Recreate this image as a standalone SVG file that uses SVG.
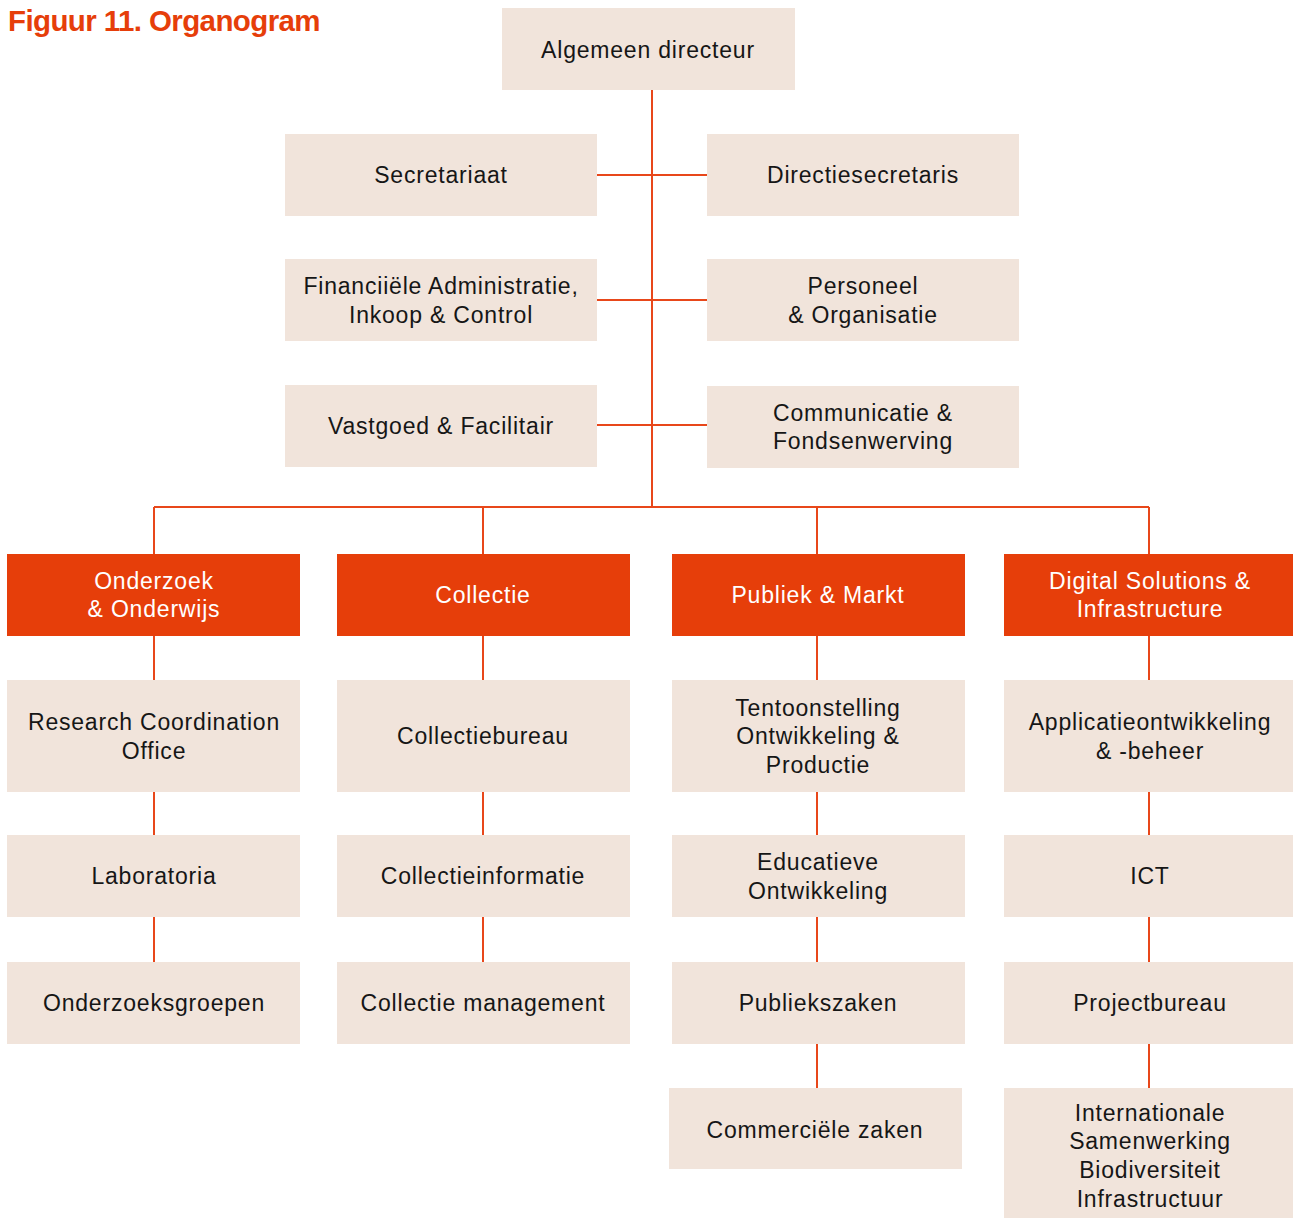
<svg xmlns="http://www.w3.org/2000/svg" width="1293" height="1218" viewBox="0 0 1293 1218">
<style>
.b{fill:#f1e4db}
.o{fill:#e63e0a}
.t{font-family:"Liberation Sans",Arial,sans-serif;font-size:23px;fill:#161616;text-anchor:middle;letter-spacing:0.8px}
.w{fill:#ffffff}
.c{stroke:#e8471a;stroke-width:2;fill:none}
.title{font-family:"Liberation Sans",Arial,sans-serif;font-size:29.5px;font-weight:bold;fill:#e63e0a;letter-spacing:-0.6px}
</style>
<rect width="1293" height="1218" fill="#ffffff"/>
<text class="title" x="8" y="31">Figuur 11. Organogram</text>
<g id="connectors">
<path class="c" d="M652 90V507M597 175H707M597 300H707M597 425H707M154 507H1149M154 507V962M483 507V962M817 507V1088M1149 507V1088"/>
</g>
<g id="n-algemeen"><rect class="b" x="502" y="8" width="293" height="82"/><text class="t" x="648" y="58">Algemeen directeur</text></g>
<g id="n-secretariaat"><rect class="b" x="285" y="134" width="312" height="82"/><text class="t" x="441" y="183">Secretariaat</text></g>
<g id="n-directiesecretaris"><rect class="b" x="707" y="134" width="312" height="82"/><text class="t" x="863" y="183">Directiesecretaris</text></g>
<g id="n-financiele"><rect class="b" x="285" y="259" width="312" height="82"/><text class="t" x="441" y="294">Financiiële Administratie,</text><text class="t" x="441" y="323">Inkoop &amp; Control</text></g>
<g id="n-personeel"><rect class="b" x="707" y="259" width="312" height="82"/><text class="t" x="863" y="294">Personeel</text><text class="t" x="863" y="323">&amp; Organisatie</text></g>
<g id="n-vastgoed"><rect class="b" x="285" y="385" width="312" height="82"/><text class="t" x="441" y="434">Vastgoed &amp; Facilitair</text></g>
<g id="n-communicatie"><rect class="b" x="707" y="386" width="312" height="82"/><text class="t" x="863" y="421">Communicatie &amp;</text><text class="t" x="863" y="449">Fondsenwerving</text></g>
<g id="n-onderzoek"><rect class="o" x="7" y="554" width="293" height="82"/><text class="t w" x="154" y="589">Onderzoek</text><text class="t w" x="154" y="617">&amp; Onderwijs</text></g>
<g id="n-collectie"><rect class="o" x="337" y="554" width="293" height="82"/><text class="t w" x="483" y="603">Collectie</text></g>
<g id="n-publiek"><rect class="o" x="672" y="554" width="293" height="82"/><text class="t w" x="818" y="603">Publiek &amp; Markt</text></g>
<g id="n-digital"><rect class="o" x="1004" y="554" width="289" height="82"/><text class="t w" x="1150" y="589">Digital Solutions &amp;</text><text class="t w" x="1150" y="617">Infrastructure</text></g>
<g id="n-research"><rect class="b" x="7" y="680" width="293" height="112"/><text class="t" x="154" y="730">Research Coordination</text><text class="t" x="154" y="759">Office</text></g>
<g id="n-collectiebureau"><rect class="b" x="337" y="680" width="293" height="112"/><text class="t" x="483" y="744">Collectiebureau</text></g>
<g id="n-tentoonstelling"><rect class="b" x="672" y="680" width="293" height="112"/><text class="t" x="818" y="716">Tentoonstelling</text><text class="t" x="818" y="744">Ontwikkeling &amp;</text><text class="t" x="818" y="773">Productie</text></g>
<g id="n-applicatie"><rect class="b" x="1004" y="680" width="289" height="112"/><text class="t" x="1150" y="730">Applicatieontwikkeling</text><text class="t" x="1150" y="759">&amp; -beheer</text></g>
<g id="n-laboratoria"><rect class="b" x="7" y="835" width="293" height="82"/><text class="t" x="154" y="884">Laboratoria</text></g>
<g id="n-collectieinformatie"><rect class="b" x="337" y="835" width="293" height="82"/><text class="t" x="483" y="884">Collectieinformatie</text></g>
<g id="n-educatieve"><rect class="b" x="672" y="835" width="293" height="82"/><text class="t" x="818" y="870">Educatieve</text><text class="t" x="818" y="899">Ontwikkeling</text></g>
<g id="n-ict"><rect class="b" x="1004" y="835" width="289" height="82"/><text class="t" x="1150" y="884">ICT</text></g>
<g id="n-onderzoeksgroepen"><rect class="b" x="7" y="962" width="293" height="82"/><text class="t" x="154" y="1011">Onderzoeksgroepen</text></g>
<g id="n-collectiemanagement"><rect class="b" x="337" y="962" width="293" height="82"/><text class="t" x="483" y="1011">Collectie management</text></g>
<g id="n-publiekszaken"><rect class="b" x="672" y="962" width="293" height="82"/><text class="t" x="818" y="1011">Publiekszaken</text></g>
<g id="n-projectbureau"><rect class="b" x="1004" y="962" width="289" height="82"/><text class="t" x="1150" y="1011">Projectbureau</text></g>
<g id="n-commerciele"><rect class="b" x="669" y="1088" width="293" height="81"/><text class="t" x="815" y="1138">Commerciële zaken</text></g>
<g id="n-internationale"><rect class="b" x="1004" y="1088" width="289" height="130"/><text class="t" x="1150" y="1121">Internationale</text><text class="t" x="1150" y="1149">Samenwerking</text><text class="t" x="1150" y="1178">Biodiversiteit</text><text class="t" x="1150" y="1207">Infrastructuur</text></g>
</svg>
